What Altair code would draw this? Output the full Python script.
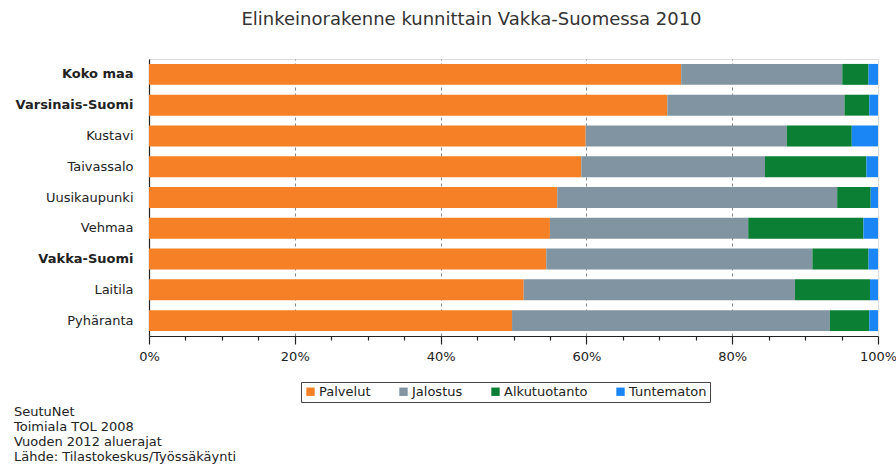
import altair as alt
import pandas as pd

regions = ["Koko maa", "Varsinais-Suomi", "Kustavi", "Taivassalo", "Uusikaupunki",
           "Vehmaa", "Vakka-Suomi", "Laitila", "Pyhäranta"]
bold_regions = ["Koko maa", "Varsinais-Suomi", "Vakka-Suomi"]

series = ["Palvelut", "Jalostus", "Alkutuotanto", "Tuntematon"]
colors = ["#F58025", "#8094A1", "#0B7F33", "#1A86F5"]

palvelut = [73.0, 71.1, 59.9, 59.3, 56.0, 55.0, 54.5, 51.4, 49.8]
jalostus = [22.1, 24.3, 27.6, 25.2, 38.4, 27.2, 36.5, 37.2, 43.6]
alkutuotanto = [3.6, 3.4, 8.9, 13.9, 4.6, 15.8, 7.7, 10.3, 5.4]
tuntematon = [1.3, 1.2, 3.6, 1.6, 1.0, 2.0, 1.3, 1.1, 1.2]

x_ticks = list(range(0, 101, 5))

title_text = "Elinkeinorakenne kunnittain Vakka-Suomessa 2010"
footnote_lines = ["SeutuNet", "Toimiala TOL 2008", "Vuoden 2012 aluerajat",
                  "Lähde: Tilastokeskus/Työssäkäynti"]

rows = []
for vals, name in zip([palvelut, jalostus, alkutuotanto, tuntematon], series):
    for r, v in zip(regions, vals):
        rows.append({"alue": r, "sarja": name, "osuus": v, "jarj": series.index(name)})
df = pd.DataFrame(rows)

FONT = "DejaVu Sans"
bold_test = "indexof(" + str(bold_regions).replace('"', "'") + ", datum.value) >= 0"

bars = alt.Chart(df).mark_bar().encode(
    y=alt.Y("alue:N", sort=regions, title=None,
            scale=alt.Scale(paddingInner=0.32, paddingOuter=0.16),
            axis=alt.Axis(
                ticks=False, labelPadding=16, domainColor="#222", domainWidth=1.2,
                labelFont=FONT, labelFontSize=13, labelColor="#222",
                labelFontWeight={"condition": {"test": bold_test, "value": "bold"},
                                 "value": "normal"},
            )),
    x=alt.X("osuus:Q", stack="zero", title=None,
            scale=alt.Scale(domain=[0, 100], nice=False),
            axis=alt.Axis(
                values=x_ticks,
                labelExpr="datum.value % 20 == 0 ? datum.value + '%' : ''",
                labelFont=FONT, labelFontSize=13, labelColor="#222",
                labelPadding=6, labelFlush=False,
                domainColor="#222", domainWidth=1.2,
                tickColor="#222", tickWidth=1.2,
                tickSize={"condition": {"test": "datum.value % 20 == 0", "value": 8}, "value": 4},
                grid=True, gridColor="#888", gridDash=[3, 3], gridWidth=1,
                gridOpacity={"condition": {"test": "datum.value % 20 == 0 && datum.value > 0 && datum.value < 100",
                                           "value": 1}, "value": 0},
            )),
    color=alt.Color("sarja:N", sort=series,
                    scale=alt.Scale(domain=series, range=colors),
                    legend=alt.Legend(
                        title=None, orient="none", legendX=152, legendY=323,
                        direction="horizontal", columns=4,
                        symbolType="square", symbolSize=70, symbolStrokeWidth=0,
                        labelFont=FONT, labelFontSize=13, labelColor="#222",
                        labelOffset=2, columnPadding=26,
                        strokeColor="#444", padding=3,
                    )),
    order=alt.Order("jarj:Q"),
)

notes = alt.Chart(pd.DataFrame({"t": ["\n".join(footnote_lines)]})).mark_text(
    align="left", baseline="top", font=FONT, fontSize=13, color="#222",
    lineBreak="\n", lineHeight=15,
).encode(x=alt.value(-135), y=alt.value(347), text="t:N")

chart = alt.layer(bars, notes).properties(
    width=729, height=277,
    title=alt.TitleParams(title_text, anchor="middle", dx=-42, offset=16,
                          baseline="alphabetic", font=FONT, fontSize=18,
                          fontWeight="normal", color="#333"),
    autosize=alt.AutoSizeParams(type="none"),
    padding={"left": 149, "top": 59, "right": 18, "bottom": 129},
).configure_view(stroke="#222", strokeWidth=1.2).configure(background="white")

chart.save("out.html", embed_options={"renderer": "svg", "actions": False})
